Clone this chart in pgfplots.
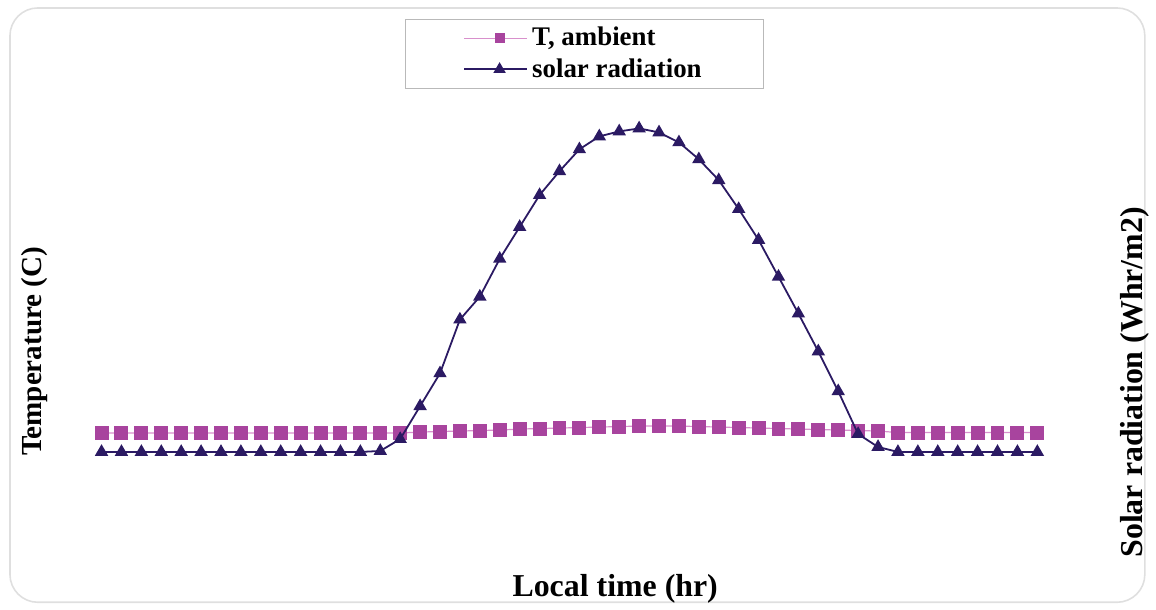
\documentclass[border=0pt]{standalone}
\usepackage{pgfplots}
\pgfplotsset{compat=1.18}
\usepackage{pgfplotstable}
\usepackage{fontspec}
\setmainfont{Liberation Serif}
\definecolor{tcol}{HTML}{A8449E}
\definecolor{tline}{HTML}{D890CC}
\definecolor{scol}{HTML}{2B1A63}

\pgfplotstableread{
hr  T
0.0 24.0
0.5 24.0
1.0 24.0
1.5 24.0
2.0 24.0
2.5 24.0
3.0 24.0
3.5 24.0
4.0 24.0
4.5 24.0
5.0 24.0
5.5 24.0
6.0 24.0
6.5 24.0
7.0 24.0
7.5 24.0
8.0 24.4
8.5 24.6
9.0 24.8
9.5 25.0
10.0 25.2
10.5 25.6
11.0 25.8
11.5 26.0
12.0 26.2
12.5 26.4
13.0 26.6
13.5 26.8
14.0 26.8
14.5 26.8
15.0 26.6
15.5 26.4
16.0 26.2
16.5 26.0
17.0 25.8
17.5 25.6
18.0 25.4
18.5 25.2
19.0 25.0
19.5 24.8
20.0 24.2
20.5 24.2
21.0 24.2
21.5 24.2
22.0 24.2
22.5 24.2
23.0 24.2
23.5 24.2
}\temptable

\pgfplotstableread{
hr  S
0.0 0
0.5 0
1.0 0
1.5 0
2.0 0
2.5 0
3.0 0
3.5 0
4.0 0
4.5 0
5.0 0
5.5 0
6.0 0
6.5 0
7.0 3
7.5 39
8.0 138
8.5 237
9.0 399
9.5 468
10.0 582
10.5 678
11.0 774
11.5 846
12.0 912
12.5 951
13.0 966
13.5 975
14.0 963
14.5 933
15.0 882
15.5 819
16.0 732
16.5 639
17.0 528
17.5 417
18.0 303
18.5 183
19.0 54
19.5 15
20.0 0
20.5 0
21.0 0
21.5 0
22.0 0
22.5 0
23.0 0
23.5 0
}\solartable

\begin{document}
\begin{tikzpicture}
\path (0,0) rectangle (578pt,304.5pt);
\draw[gray!25, line width=0.8pt, rounded corners=14pt] (5pt,2pt) rectangle (575pt,300.5pt);
\pgfplotsset{
  common/.style={
    at={(30pt,23pt)}, anchor=south west,
    scale only axis, width=520pt, height=230pt,
    xmin=-1.05, xmax=24.95,
    axis line style={draw=none},
    xtick=\empty, ytick=\empty,
    clip=false,
  }
}
\begin{axis}[common,
  ymin=-27.2, ymax=156.8,
  xlabel={\bfseries Local time (hr)},
  ylabel={\bfseries Temperature (C)},
  xlabel style={font=\fontsize{16}{19}\selectfont, at={(rel axis cs:0.5365,-0.0609)}, anchor=center},
  ylabel style={font=\fontsize{14.6}{18}\selectfont, at={(rel axis cs:-0.024,0.4565)}, anchor=center, rotate=0},
  legend style={at={(rel axis cs:0.5067,1.1826)}, anchor=north,
    draw=gray!55, fill=white, font=\bfseries\fontsize{13.5}{16}\selectfont,
    inner xsep=29pt, inner ysep=2pt, row sep=0.8pt},
  legend cell align=left,
  legend image code/.code={
    \path (0pt,0pt) -- (4pt,0pt);
    \draw[#1, mark repeat=2, mark phase=2] plot coordinates {(4pt,0pt) (17.75pt,0pt) (31.5pt,0pt)};
  },
]
\addplot[tline, line width=0.6pt, mark=square*, mark size=3.2pt,
  mark options={draw=tcol, fill=tcol, solid}, forget plot] table[x=hr, y=T] {\temptable};
\addlegendimage{tline, line width=0.6pt, mark=square*, mark size=2.2pt, mark options={draw=tcol, fill=tcol}}
\addlegendentry{T, ambient}
\addlegendimage{scol, line width=1.2pt, mark=triangle*, mark size=2.4pt, mark options={draw=scol, fill=scol}}
\addlegendentry{solar radiation}
\end{axis}
\begin{axis}[common,
  ymin=-327, ymax=1053,
  ylabel={\bfseries Solar radiation (Whr/m2)},
  ylabel style={font=\fontsize{16}{19}\selectfont, at={(rel axis cs:1.0385,0.389)}, anchor=center, rotate=0},
]
\addplot[scol, line width=0.9pt, mark=triangle*, mark size=3pt,
  mark options={draw=scol, fill=scol}] table[x=hr, y=S] {\solartable};
\end{axis}
\end{tikzpicture}
\end{document}
